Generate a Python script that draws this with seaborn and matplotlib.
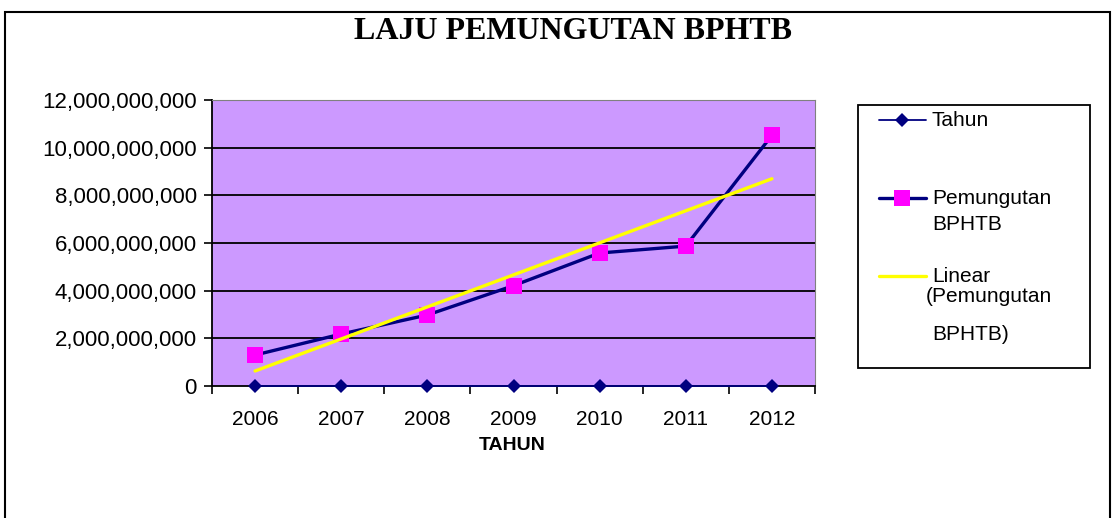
import numpy as np
import pandas as pd
import matplotlib
matplotlib.use('Agg')
import matplotlib.pyplot as plt
import seaborn as sns
from matplotlib.patches import Rectangle
from matplotlib.lines import Line2D
from matplotlib.ticker import FuncFormatter, FixedLocator

# data
years = [2006, 2007, 2008, 2009, 2010, 2011, 2012]
tahun = [2006, 2007, 2008, 2009, 2010, 2011, 2012]
pemungutan = [1.30e9, 2.18e9, 2.98e9, 4.21e9, 5.58e9, 5.87e9, 10.52e9]
y_ticks = [0, 2e9, 4e9, 6e9, 8e9, 10e9, 12e9]

df = pd.DataFrame({'year': years, 'tahun': tahun, 'pemungutan': pemungutan})

# linear trend, as Excel draws it
coef = np.polyfit(df['year'], df['pemungutan'], 1)
df['trend'] = np.polyval(coef, df['year'])

sns.set_style('white')
plt.rcParams['font.family'] = ['Liberation Sans', 'DejaVu Sans']
plt.rcParams['text.color'] = 'black'
plt.rcParams['axes.labelcolor'] = 'black'
plt.rcParams['xtick.color'] = 'black'
plt.rcParams['ytick.color'] = 'black'

W, H = 1112, 518
fig = plt.figure(figsize=(W / 100, H / 100), dpi=100)
ax = fig.add_axes([212 / W, 1 - 386 / H, 603 / W, 286 / H])
ax.set_facecolor('#CC99FF')


def fx(px):
    return px / W


def fy(py):
    return 1 - py / H


# outer chart border
fig.patches.append(Rectangle((fx(5), -0.05), fx(1105), 1.05 - 12 / H,
                             transform=fig.transFigure, fill=False,
                             edgecolor='black', linewidth=1.5))

for y in y_ticks[1:]:
    ax.axhline(y, color='black', linewidth=1.3, zorder=1)

sns.lineplot(data=df, x='year', y='tahun', ax=ax, color='#000080', linewidth=1.3,
             marker='D', markersize=7, markeredgewidth=0, zorder=4, clip_on=False)
sns.lineplot(data=df, x='year', y='pemungutan', ax=ax, color='#000080', linewidth=2.4,
             marker='s', markersize=11, markerfacecolor='#FF00FF', markeredgewidth=0,
             zorder=3)
sns.lineplot(data=df, x='year', y='trend', ax=ax, color='#FFFF00', linewidth=2.4,
             zorder=5)

ax.set_xlim(2005.5, 2012.5)
ax.set_ylim(0, 12e9)
ax.set_yticks(y_ticks)
ax.yaxis.set_major_formatter(FuncFormatter(lambda v, p: f'{v:,.0f}'))
ax.xaxis.set_major_locator(FixedLocator([2005.5 + i for i in range(8)]))
ax.xaxis.set_minor_locator(FixedLocator(years))
ax.set_xticklabels([])
ax.set_xticklabels([str(y) for y in years], minor=True)
ax.tick_params(axis='x', which='major', direction='out', length=6, width=1.2)
ax.tick_params(axis='x', which='minor', length=0, pad=17, labelsize=15)
ax.tick_params(axis='y', direction='out', length=6, width=1.2, pad=5, labelsize=16)
ax.tick_params(left=True, bottom=True)

ax.spines['left'].set_color('black')
ax.spines['bottom'].set_color('black')
ax.spines['left'].set_linewidth(1.3)
ax.spines['bottom'].set_linewidth(1.3)
ax.spines['top'].set_color('#808080')
ax.spines['right'].set_color('#808080')

ax.set_xlabel('')
ax.set_ylabel('')
fig.text(fx(512), fy(445), 'TAHUN', ha='center', va='center', fontsize=14, fontweight='bold')

fig.text(fx(573), fy(39), 'LAJU PEMUNGUTAN BPHTB', ha='center', va='baseline',
         fontsize=23, fontweight='bold', family=['Liberation Serif', 'DejaVu Serif'])

# legend box, laid out like the Excel one
fig.patches.append(Rectangle((fx(858), fy(368)), fx(232), (368 - 105) / H,
                             transform=fig.transFigure, fill=True, facecolor='white',
                             edgecolor='black', linewidth=1.3))
lx = [fx(879), fx(926)]
fig.add_artist(Line2D(lx, [fy(120)] * 2, color='#000080', linewidth=1.3))
fig.add_artist(Line2D([fx(902)], [fy(120)], marker='D', markersize=7,
                      color='#000080', markeredgewidth=0))
fig.add_artist(Line2D(lx, [fy(198)] * 2, color='#000080', linewidth=2.4))
fig.add_artist(Line2D([fx(902)], [fy(198)], marker='s', markersize=11,
                      color='#FF00FF', markeredgewidth=0))
fig.add_artist(Line2D(lx, [fy(276)] * 2, color='#FFFF00', linewidth=2.4))

legend_text = [('Tahun', 932, 120), ('Pemungutan', 932, 198), ('BPHTB', 932, 225),
               ('Linear', 932, 276), ('(Pemungutan', 926, 296), ('BPHTB)', 932, 335)]
for s, x, y in legend_text:
    fig.text(fx(x), fy(y), s, ha='left', va='center', fontsize=15)

fig.savefig('out.png', dpi=100)
